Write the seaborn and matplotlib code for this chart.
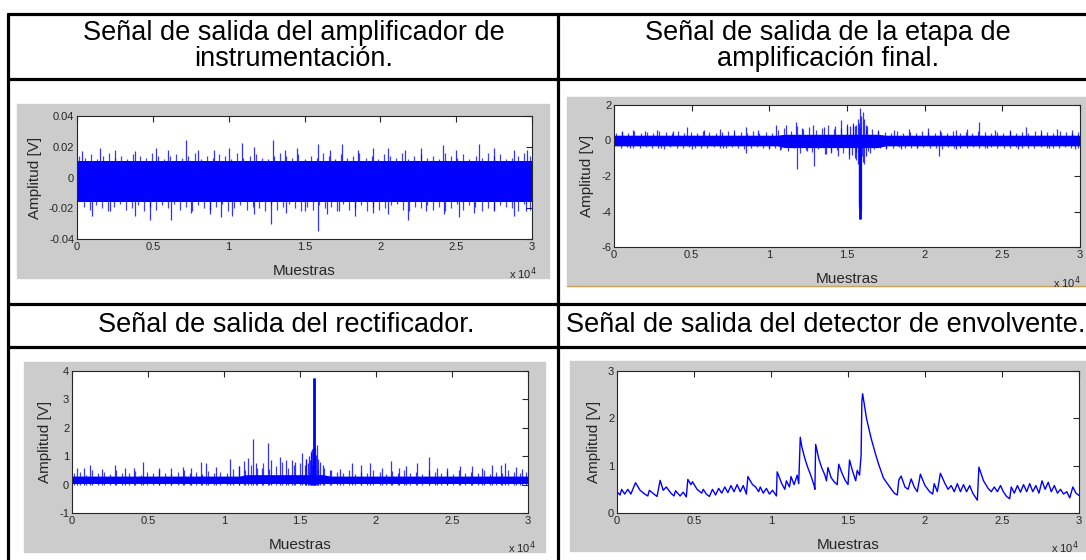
import numpy as np
import pandas as pd
import seaborn as sns
import matplotlib.pyplot as plt
from matplotlib.lines import Line2D
from matplotlib.patches import Rectangle

sns.set_style("white")
plt.rcParams['font.family'] = ['Liberation Sans', 'DejaVu Sans']

# ---------------- data (x in units of 1e4 samples) ----------------
titles_top = ["Señal de salida del amplificador de\ninstrumentación.",
              "Señal de salida de la etapa de\namplificación final."]
titles_bottom = ["Señal de salida del rectificador.",
                 "Señal de salida del detector de envolvente."]
xtick_labels = ['0', '0.5', '1', '1.5', '2', '2.5', '3']

# panel 1: instrumentation amplifier (values in mV)
p1_band = [-16, 11]
p1_minor_hi = [14, 13, 15, 12, 14, 16, 13, 14, 12, 15, 14, 13, 16, 14, 12, 14, 15, 13, 14, 16, 12, 14, 13, 15,
               14, 12, 16, 13, 14, 15, 13, 12, 14, 16, 14, 13, 15, 12, 14, 13, 16, 14, 12, 15, 13, 14, 16, 13,
               14, 12, 15, 14, 13, 16, 12, 14, 15, 13, 14, 12, 16, 14, 13, 15, 12, 14, 13, 16, 14, 15, 12, 13,
               14, 16, 14]
p1_minor_lo = [-19, -21, -18, -20, -22, -19, -17, -21, -20, -18, -22, -19, -21, -18, -20, -17, -21, -19, -22,
               -18, -20, -21, -19, -17, -22, -20, -18, -21, -19, -20, -22, -18, -21, -19, -17, -20, -22, -19,
               -21, -18, -20, -19, -22, -17, -21, -20, -18, -22, -19, -21, -20, -18, -17, -21, -22, -19, -20,
               -18, -21, -19, -22, -20, -17, -21, -18, -19, -22, -20, -21, -18, -19, -20, -22, -17, -21]
p1_up_x = [0.03, 0.15, 0.25, 0.38, 0.52, 0.6, 0.72, 0.8, 0.9, 1.0, 1.09, 1.17, 1.29, 1.37, 1.45,
           1.59, 1.67, 1.75, 1.85, 1.95, 2.05, 2.16, 2.27, 2.41, 2.5, 2.65, 2.75, 2.88, 2.97]
p1_up_y = [17, 19, 18, 17, 19, 18, 24.5, 18, 18, 19, 22.5, 20, 24.5, 18, 19, 22, 18, 22, 18, 19, 19, 18, 19,
           21, 18, 22, 19, 18, 18]
p1_dn_x = [0.1, 0.22, 0.38, 0.48, 0.62, 0.75, 0.88, 0.95, 1.02, 1.17, 1.28, 1.38, 1.5, 1.59, 1.65,
           1.73, 1.83, 1.95, 2.05, 2.18, 2.3, 2.42, 2.52, 2.62, 2.75, 2.88, 2.96]
p1_dn_y = [-25, -22, -25, -27.5, -27.5, -23, -24, -26, -25, -24, -30, -23, -22, -35, -24, -22, -25, -23,
           -24, -27.5, -22, -24, -26, -23, -22, -25, -22]

# panel 2: final amplification stage
p2_band_x = [0, 1.05, 1.1, 1.7, 1.75, 3.0]
p2_band_hi = [0.3, 0.3, 0.35, 0.35, 0.3, 0.3]
p2_band_lo = [-0.3, -0.3, -0.4, -0.4, -0.3, -0.3]
p2_minor_hi = [0.45, 0.5, 0.4, 0.55, 0.45, 0.5, 0.4, 0.55, 0.5, 0.45, 0.55, 0.4, 0.5, 0.45, 0.55, 0.5, 0.4,
               0.5, 0.55, 0.45, 0.5, 0.4, 0.55, 0.45, 0.5, 0.45,
               0.6, 0.7, 0.55, 0.8, 0.65, 0.75, 0.6, 0.7, 0.85, 0.65, 0.7, 0.8, 0.9, 0.75, 0.6, 0.65, 0.55,
               0.5, 0.45, 0.55, 0.4, 0.5, 0.45, 0.55, 0.5, 0.4, 0.5, 0.45, 0.55, 0.45, 0.5, 0.4, 0.55, 0.5,
               0.45, 0.5, 0.4, 0.55, 0.45, 0.5, 0.45, 0.55, 0.4, 0.5, 0.45, 0.55, 0.5, 0.45, 0.5]
p2_minor_lo = [-0.4, -0.35, -0.45, -0.4, -0.35, -0.45, -0.4, -0.5, -0.35, -0.4, -0.45, -0.35, -0.4, -0.45,
               -0.4, -0.35, -0.45, -0.4, -0.35, -0.45, -0.5, -0.4, -0.35, -0.45, -0.4, -0.45,
               -0.5, -0.6, -0.45, -0.7, -0.55, -0.65, -0.5, -0.75, -0.6, -0.55, -0.7, -0.8, -0.65, -0.9,
               -0.6, -0.5, -0.45,
               -0.4, -0.45, -0.35, -0.4, -0.45, -0.4, -0.35, -0.45, -0.4, -0.5, -0.35, -0.4, -0.45, -0.4,
               -0.35, -0.45, -0.4, -0.35, -0.45, -0.4, -0.45, -0.35, -0.4, -0.45, -0.4, -0.35, -0.45, -0.4,
               -0.45, -0.35, -0.4, -0.45]
p2_up_x = [0.05, 0.12, 0.2, 0.28, 0.38, 0.47, 0.58, 0.68, 0.77, 0.85, 0.93, 1.04, 1.11, 1.17, 1.21,
           1.28, 1.35, 1.42, 1.46, 1.5, 1.52, 1.54, 1.55, 1.56, 1.57, 1.575, 1.585, 1.59, 1.6, 1.61, 1.62,
           1.63, 1.7, 1.8, 1.9, 2.02, 2.1, 2.2, 2.27, 2.35, 2.45, 2.55, 2.65, 2.75, 2.85, 2.95]
p2_up_y = [0.55, 0.6, 0.55, 0.6, 0.55, 0.78, 0.6, 0.65, 0.6, 0.78, 0.6, 0.9, 0.85, 1.06, 0.7, 0.9,
           0.75, 0.8, 1.15, 0.95, 0.8, 1.0, 0.8, 0.9, 1.2, 1.0, 1.85, 1.4, 1.6, 1.2, 0.9, 0.8, 0.6, 0.6,
           0.65, 0.7, 0.6, 0.6, 0.65, 1.05, 0.6, 0.6, 0.78, 0.6, 0.65, 0.6]
p2_dn_x = [0.1, 0.3, 0.5, 0.7, 0.85, 1.0, 1.07, 1.18, 1.24, 1.29, 1.365, 1.4, 1.44, 1.51, 1.53, 1.55,
           1.56, 1.57, 1.575, 1.58, 1.585, 1.59, 1.6, 1.61, 1.62, 1.65, 1.75, 1.85, 1.95, 2.095, 2.2, 2.4,
           2.6, 2.8, 2.97]
p2_dn_y = [-0.45, -0.45, -0.5, -0.45, -0.72, -0.5, -0.53, -1.6, -0.6, -1.43, -0.78, -0.7, -0.9, -1.05,
           -0.8, -1.0, -1.1, -1.3, -3.8, -3.6, -4.4, -3.9, -1.2, -1.35, -0.9, -0.7, -0.5, -0.5, -0.45,
           -0.87, -0.5, -0.45, -0.5, -0.45, -0.5]

# panel 3: rectifier
p3_band_x = [0, 1.1, 1.15, 1.65, 1.7, 3.0]
p3_band_hi = [0.3, 0.3, 0.35, 0.35, 0.3, 0.3]
p3_band_lo = [0.04, 0.04, 0.04, 0.04, 0.04, 0.04]
p3_minor_hi = [0.4, 0.45, 0.35, 0.5, 0.4, 0.45, 0.38, 0.5, 0.42, 0.4, 0.48, 0.35, 0.45, 0.4, 0.5, 0.42, 0.38,
               0.45, 0.5, 0.4, 0.45, 0.38, 0.48, 0.4, 0.45, 0.42,
               0.55, 0.65, 0.5, 0.7, 0.6, 0.75, 0.55, 0.65, 0.8, 0.6, 0.7, 0.75, 0.9, 0.7, 0.55, 0.6, 0.5,
               0.45, 0.4, 0.5, 0.38, 0.45, 0.42, 0.5, 0.45, 0.38, 0.48, 0.4, 0.5, 0.42, 0.45, 0.38, 0.5,
               0.45, 0.4, 0.48, 0.38, 0.5, 0.42, 0.45, 0.4, 0.5, 0.38, 0.45, 0.42, 0.5, 0.45, 0.4, 0.45]
p3_up_x = [0.03, 0.08, 0.12, 0.2, 0.28, 0.35, 0.41, 0.47, 0.57, 0.65, 0.73, 0.78, 0.85, 0.88, 0.95,
           1.04, 1.1, 1.13, 1.16, 1.19, 1.21, 1.25, 1.29, 1.31, 1.37, 1.41, 1.45, 1.47, 1.51, 1.53,
           1.54, 1.55, 1.56, 1.565, 1.57, 1.575, 1.58, 1.585, 1.59, 1.595, 1.6, 1.605, 1.61, 1.62, 1.63,
           1.65, 1.7, 1.76, 1.84, 1.9, 1.96, 2.04, 2.1, 2.15, 2.2, 2.27, 2.35, 2.4, 2.47, 2.55, 2.63,
           2.7, 2.76, 2.82, 2.85, 2.92, 2.96]
p3_up_y = [0.6, 0.6, 0.68, 0.55, 0.68, 0.6, 0.6, 0.8, 0.6, 0.6, 0.62, 0.6, 0.8, 0.75, 0.62, 0.9,
           0.65, 0.82, 0.92, 1.6, 0.75, 0.57, 1.45, 0.85, 0.98, 0.85, 0.85, 0.8, 1.13, 0.7,
           0.9, 0.75, 1.0, 0.85, 1.2, 1.1, 1.25, 1.3, 3.75, 1.2, 1.3, 1.05, 1.39, 0.9, 0.8,
           0.7, 0.5, 0.55, 0.75, 0.7, 0.75, 0.6, 0.83, 0.6, 0.65, 0.75, 0.98, 0.6, 0.6, 0.65, 0.65,
           0.6, 0.7, 0.7, 0.75, 0.62, 0.55]

# panel 4: envelope detector
env_x = [0.00, 0.02, 0.03, 0.05, 0.07, 0.09, 0.12, 0.15, 0.18, 0.20, 0.21, 0.24, 0.26, 0.28, 0.30,
         0.32, 0.35, 0.37, 0.38, 0.41, 0.43, 0.45, 0.46, 0.48, 0.49, 0.52, 0.55, 0.56, 0.58, 0.60,
         0.62, 0.64, 0.66, 0.68, 0.70, 0.72, 0.74, 0.76, 0.78, 0.80, 0.82, 0.84, 0.85, 0.88, 0.90,
         0.92, 0.93, 0.95, 0.97, 0.99, 1.01, 1.035, 1.04, 1.07, 1.09, 1.10, 1.12, 1.13, 1.15, 1.17,
         1.18, 1.19, 1.20, 1.22, 1.24, 1.26, 1.28, 1.285, 1.29, 1.31, 1.33, 1.35, 1.36, 1.37, 1.39,
         1.41, 1.43, 1.435, 1.44, 1.46, 1.48, 1.50, 1.51, 1.53, 1.55, 1.56, 1.575, 1.585, 1.59,
         1.595, 1.62, 1.65, 1.68, 1.70, 1.73, 1.76, 1.80, 1.82, 1.83, 1.845, 1.87, 1.89, 1.91,
         1.93, 1.95, 1.97, 2.00, 2.03, 2.05, 2.06, 2.08, 2.10, 2.13, 2.15, 2.17, 2.19, 2.21, 2.23,
         2.25, 2.27, 2.29, 2.31, 2.34, 2.35, 2.38, 2.41, 2.43, 2.45, 2.47, 2.49, 2.51, 2.53, 2.55,
         2.56, 2.58, 2.60, 2.62, 2.64, 2.66, 2.68, 2.70, 2.72, 2.74, 2.76, 2.78, 2.80, 2.82, 2.84,
         2.86, 2.88, 2.90, 2.92, 2.94, 2.96, 2.98, 3.00]
env_y = [0.45, 0.38, 0.50, 0.40, 0.50, 0.40, 0.64, 0.48, 0.40, 0.36, 0.48, 0.40, 0.35, 0.69, 0.48,
         0.55, 0.42, 0.36, 0.47, 0.36, 0.44, 0.34, 0.71, 0.60, 0.66, 0.50, 0.42, 0.50, 0.40, 0.35,
         0.50, 0.38, 0.52, 0.42, 0.55, 0.43, 0.58, 0.45, 0.60, 0.45, 0.58, 0.40, 0.77, 0.60, 0.55,
         0.45, 0.55, 0.42, 0.52, 0.40, 0.48, 0.36, 0.87, 0.62, 0.50, 0.68, 0.55, 0.77, 0.60, 0.80,
         0.62, 1.60, 1.40, 1.15, 0.95, 0.78, 0.58, 0.50, 1.45, 1.15, 0.95, 0.80, 0.68, 0.96, 0.75,
         0.66, 0.60, 0.84, 1.03, 0.85, 0.70, 0.60, 1.12, 0.88, 0.68, 0.90, 0.80, 1.22, 2.35,
         2.52, 2.00, 1.58, 1.23, 1.02, 0.74, 0.60, 0.42, 0.38, 0.70, 0.78, 0.55, 0.50, 0.72,
         0.55, 0.45, 0.82, 0.58, 0.45, 0.40, 0.62, 0.45, 0.84, 0.62, 0.50, 0.58, 0.45, 0.62, 0.45,
         0.60, 0.45, 0.58, 0.42, 0.27, 0.97, 0.68, 0.52, 0.45, 0.55, 0.45, 0.58, 0.44, 0.35, 0.30,
         0.55, 0.42, 0.58, 0.44, 0.60, 0.45, 0.62, 0.45, 0.58, 0.42, 0.68, 0.50, 0.65, 0.45, 0.58,
         0.42, 0.50, 0.40, 0.45, 0.32, 0.55, 0.42, 0.37]

# ---------------- layout ----------------
W, H = 1086, 560
BLUE = '#0000ff'
FRAME = '#262626'


def box(l, t, r, b):
    return [l / W, 1 - b / H, (r - l) / W, (b - t) / H]


def ftext(x, y, s, **kw):
    fig.text(x / W, 1 - y / H, s, **kw)


fig = plt.figure(figsize=(W / 100, H / 100), dpi=100)
fig.patch.set_facecolor('white')

# gray matlab figure backgrounds
for l, t, r, b in [(17, 104, 549, 278), (567, 97, 1086, 286), (24, 362, 545, 552), (570, 361, 1086, 551)]:
    fig.add_artist(Rectangle((l / W, 1 - b / H), (r - l) / W, (b - t) / H,
                             transform=fig.transFigure, color='#cccccc', zorder=0))
fig.add_artist(Line2D([567 / W, 1], [1 - 286 / H] * 2, transform=fig.transFigure, color='#c8a35a', lw=1))

# table lines
for y in [14, 79, 304, 347]:
    fig.add_artist(Line2D([8 / W, 1], [1 - y / H] * 2, transform=fig.transFigure, color='black', lw=2.3))
for x in [8, 558]:
    fig.add_artist(Line2D([x / W] * 2, [1 - 14 / H, 0], transform=fig.transFigure, color='black', lw=2.3))

# header texts
hfont = dict(ha='center', va='center', fontsize=19.5, color='black')
ftext(294, 46, titles_top[0], linespacing=0.98, **hfont)
ftext(828, 46, titles_top[1], linespacing=0.98, **hfont)
ftext(286, 325, titles_bottom[0], **hfont)
ftext(826, 325, titles_bottom[1], **hfont)


def style(ax, ylim, yticks, ylabels):
    ax.set_facecolor('white')
    ax.set_xlim(0, 30000)
    ax.set_ylim(ylim)
    ax.set_xticks(np.arange(0, 30001, 5000))
    ax.set_xticklabels(xtick_labels)
    ax.set_yticks(yticks)
    ax.set_yticklabels(ylabels)
    ax.tick_params(direction='in', length=4, width=0.8, top=True, right=True,
                   labelsize=8, color=FRAME, labelcolor=FRAME, pad=2)
    for s in ax.spines.values():
        s.set_visible(True)
        s.set_color(FRAME)
        s.set_linewidth(0.8)
    ax.set_xlabel('Muestras', fontsize=11, color=FRAME, labelpad=9)
    ax.set_ylabel('Amplitud [V]', fontsize=11, color=FRAME, labelpad=5)


def noise_panel(ax, bx, lo, hi, minor_hi, minor_lo, up_x, up_y, dn_x, dn_y, scale=1.0):
    bx = np.array(bx) * 1e4
    ax.fill_between(bx, np.array(lo) * scale, np.array(hi) * scale, color=BLUE, lw=0)
    mx = np.linspace(0.01, 2.99, len(minor_hi)) * 1e4
    ax.vlines(mx, 0, np.array(minor_hi) * scale, color=BLUE, lw=0.9, alpha=0.75)
    if minor_lo:
        mx2 = np.linspace(0.03, 2.97, len(minor_lo)) * 1e4 + 150
        ax.vlines(mx2, 0, np.array(minor_lo) * scale, color=BLUE, lw=0.9, alpha=0.75)
    ax.vlines(np.array(up_x) * 1e4, 0, np.array(up_y) * scale, color=BLUE, lw=0.9, alpha=0.8)
    if dn_x:
        ax.vlines(np.array(dn_x) * 1e4, 0, np.array(dn_y) * scale, color=BLUE, lw=0.9, alpha=0.8)


# panel 1
ax1 = fig.add_axes(box(77, 116, 532, 239))
noise_panel(ax1, [0, 3], [p1_band[0]] * 2, [p1_band[1]] * 2, p1_minor_hi, p1_minor_lo,
            p1_up_x, p1_up_y, p1_dn_x, p1_dn_y, scale=1e-3)
style(ax1, (-0.04, 0.04), [-0.04, -0.02, 0, 0.02, 0.04], ['-0.04', '-0.02', '0', '0.02', '0.04'])
ftext(537, 274, r'x 10$^{4}$', ha='right', va='center', fontsize=8, color=FRAME)

# panel 2 (the big negative burst is a few samples wide)
ax2 = fig.add_axes(box(614, 105, 1080, 247))
noise_panel(ax2, p2_band_x, p2_band_lo, p2_band_hi, p2_minor_hi, p2_minor_lo,
            p2_up_x, p2_up_y, p2_dn_x, p2_dn_y)
i2 = int(np.argmin(p2_dn_y))
ax2.vlines(p2_dn_x[i2] * 1e4, 0, p2_dn_y[i2], color=BLUE, lw=2)
style(ax2, (-6, 2), [-6, -4, -2, 0, 2], ['-6', '-4', '-2', '0', '2'])
ftext(1081, 283, r'x 10$^{4}$', ha='right', va='center', fontsize=8, color=FRAME)

# panel 3
ax3 = fig.add_axes(box(72, 371, 528, 513))
noise_panel(ax3, p3_band_x, p3_band_lo, p3_band_hi, p3_minor_hi, [],
            p3_up_x, p3_up_y, [], [])
i3 = int(np.argmax(p3_up_y))
ax3.vlines(p3_up_x[i3] * 1e4, 0, p3_up_y[i3], color=BLUE, lw=2)
style(ax3, (-1, 4), [-1, 0, 1, 2, 3, 4], ['-1', '0', '1', '2', '3', '4'])
ftext(536, 548, r'x 10$^{4}$', ha='right', va='center', fontsize=8, color=FRAME)

# panel 4
ax4 = fig.add_axes(box(617, 371, 1079, 513))
env = pd.DataFrame({'x': np.array(env_x) * 1e4, 'y': env_y})
sns.lineplot(data=env, x='x', y='y', ax=ax4, color=BLUE, lw=1)
style(ax4, (0, 3), [0, 1, 2, 3], ['0', '1', '2', '3'])
ftext(1079, 548, r'x 10$^{4}$', ha='right', va='center', fontsize=8, color=FRAME)

fig.savefig('out.png', dpi=100)
